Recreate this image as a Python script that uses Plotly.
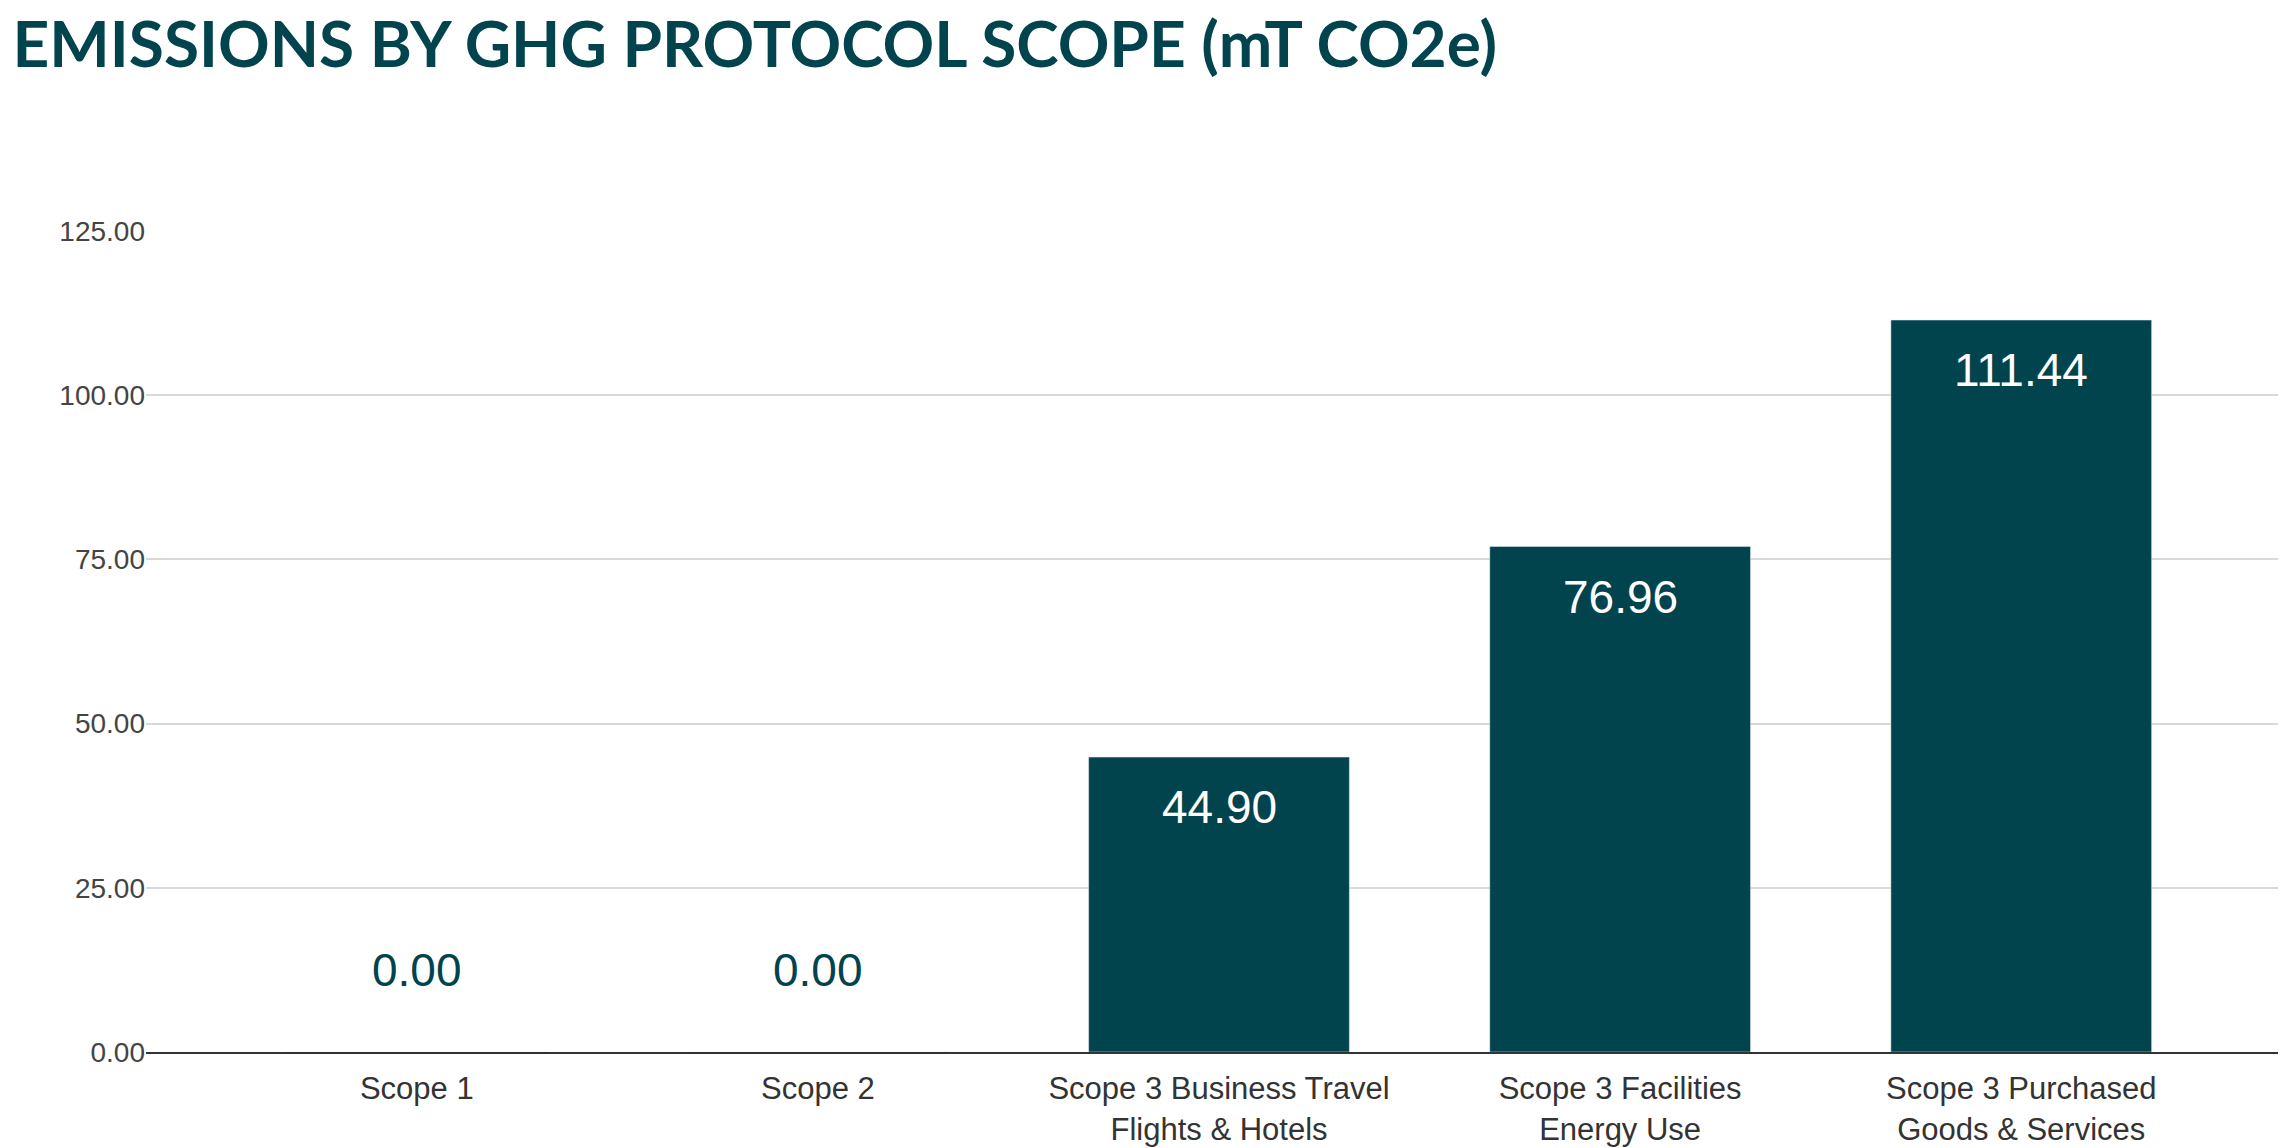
import plotly.graph_objects as go

categories = ["Scope 1", "Scope 2", "Scope 3 Business Travel<br>Flights & Hotels",
              "Scope 3 Facilities<br>Energy Use", "Scope 3 Purchased<br>Goods & Services"]
values = [0.00, 0.00, 44.90, 76.96, 111.44]
ticks = [0, 25, 50, 75, 100, 125]

color = "#01444e"
fig = go.Figure(go.Bar(x=categories, y=values, marker_color=color, width=0.65, hoverinfo="x+y"))
for c, v in zip(categories, values):
    fig.add_annotation(x=c, y=v, text=f"{v:.2f}", showarrow=False, yanchor="middle",
                       yshift=(-50 if v > 0 else 82),
                       font=dict(size=46, family="Liberation Sans", color=("white" if v > 0 else color)))
fig.update_layout(
    width=2286, height=1148, plot_bgcolor="white", paper_bgcolor="white",
    margin=dict(l=138, r=4, t=223, b=104),
    title=dict(text="<b>EMISSIONS BY GHG PROTOCOL SCOPE (mT CO2e)</b>", x=0.002, xanchor="left",
               y=0.968, yanchor="middle", font=dict(size=64, color=color, family="Lato", weight=900)),
    showlegend=False,
)
fig.update_yaxes(range=[0, 125], tickvals=ticks, tickformat=".2f", gridcolor="#d9d9d9", gridwidth=2,
                 tickfont=dict(size=28, color="#444", family="Liberation Sans"), zeroline=False, ticks="")
fig.update_xaxes(range=[-0.675, 4.67], showline=True, linecolor="#333", linewidth=2,
                 ticks="outside", ticklen=8, tickcolor="white",
                 tickfont=dict(size=31, color="#333", family="Liberation Sans"))
fig.write_html("out.html")
